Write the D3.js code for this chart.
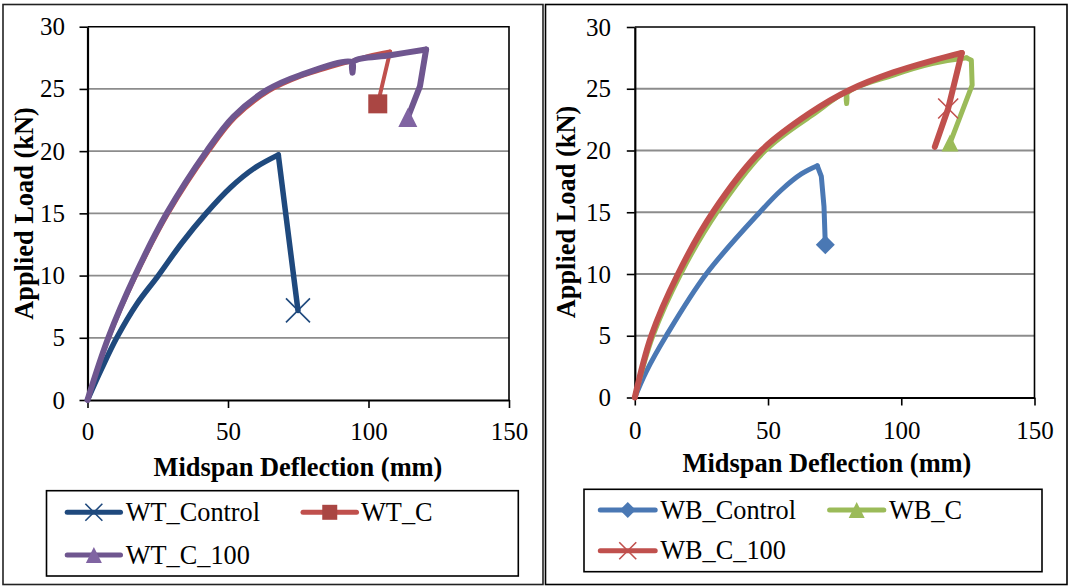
<!DOCTYPE html>
<html>
<head>
<meta charset="utf-8">
<script src="https://cdn.jsdelivr.net/npm/d3@7"></script>
<style>
  html, body { margin: 0; padding: 0; background: #fff; }
  svg { display: block; }
</style>
</head>
<body>
<svg id="chart" width="1071" height="588"></svg>
<script>
// ---- Data: midspan deflection (mm) vs applied load (kN) ----
const xTicks = [0, 50, 100, 150];
const yTicks = [0, 5, 10, 15, 20, 25, 30];

const wtControl = [[0,0],[5,2.5],[10.4,5],[17.5,7.7],[25.2,10],[33.5,12.6],[42.2,15],[51,17.1],[59.5,18.65],[67.9,19.7],[74.9,7.2]];
const wtC = [[0,0],[7.6,5],[17.3,10],[28.8,15],[43.2,20],[52.6,22.7],[64.5,24.8],[76,26],[93.4,27.2],[100,27.65],[107.7,28.0],[103.3,23.8]];
const wtC100 = [[0,0],[7.4,5],[16.9,10],[28.2,15],[42.4,20],[51.9,22.76],[63.8,24.9],[75.6,26.1],[94.1,27.15],[94.3,26.3],[94.5,27.17],[107.7,27.7],[120.5,28.17],[118.3,25.2],[114,22.7]];

const wbControl = [[0,0],[4.3,2.1],[11.8,5],[26.8,10],[46.9,15],[55,16.8],[62.5,18.1],[68.5,18.76],[70,17.9],[71,15.46],[71.5,12.36]];
const wbC = [[0,0],[6.8,5],[17.2,10],[30.8,15],[49,20],[66.8,22.9],[79.3,24.6],[79.5,23.8],[79.8,24.65],[97,26.1],[112,27.05],[124.5,27.5],[126.3,27.3],[126.6,25.3],[118.3,20.6]];
const wbC100 = [[0,0],[6.2,5],[16.2,10],[29.3,15],[47.5,20],[65.7,23.03],[80.8,24.92],[97,26.32],[112,27.3],[122.7,27.9],[117.6,23.4],[112.6,20.3]];

// Marker locations for each series
const wtControlMarker = [[74.9,7.2]];
const wtCMarker = [[103.3,23.8]];
const wtC100Marker = [[114,22.7]];
const wbControlMarker = [[71.5,12.36]];
const wbCMarker = [[118.3,20.6]];
const wbC100Marker = [[117.6,23.4]];

const seriesNames = ["WT_Control","WT_C","WT_C_100","WB_Control","WB_C","WB_C_100"];

const FONT = '"Liberation Serif"';
const svg = d3.select("#chart");

// Marker shapes, size in px
function markerPath(type, s) {
  const h = s / 2;
  switch (type) {
    case "square": return `M${-h},${-h}H${h}V${h}H${-h}Z`;
    case "triangle": return `M0,${-h}L${h},${h}L${-h},${h}Z`;
    case "diamond": return `M0,${-h}L${h},0L0,${h}L${-h},0Z`;
    case "x": return `M${-h},${-h}L${h},${h}M${-h},${h}L${h},${-h}`;
  }
}

function drawPanel(cfg) {
  const g = svg.append("g");

  // panel frame
  g.append("rect")
    .attr("x", cfg.frame.x).attr("y", cfg.frame.y)
    .attr("width", cfg.frame.w).attr("height", cfg.frame.h)
    .attr("fill", "#fff").attr("stroke", cfg.frame.stroke).attr("stroke-width", 1.6);

  const x = d3.scaleLinear().domain([0, 150]).range([cfg.plot.x0, cfg.plot.x1]);
  const y = d3.scaleLinear().domain([0, 30]).range([cfg.plot.yBot, cfg.plot.yTop]);

  // horizontal gridlines
  g.append("g").selectAll("line")
    .data(yTicks.filter(v => v > 0 && v < 30))
    .join("line")
    .attr("x1", x(0)).attr("x2", x(150))
    .attr("y1", d => y(d)).attr("y2", d => y(d))
    .attr("stroke", "#8c8c8c").attr("stroke-width", 1.8);

  // plot border (top / right)
  g.append("path")
    .attr("d", `M${x(0)},${y(30)}H${x(150)}V${y(0)}`)
    .attr("fill", "none").attr("stroke", "#000").attr("stroke-width", 1.6);

  // axes
  const yAxis = d3.axisLeft(y).tickValues(yTicks).tickSize(8).tickSizeOuter(0).tickPadding(cfg.yPad);
  const xAxis = d3.axisBottom(x).tickValues(xTicks).tickSize(8).tickSizeOuter(0).tickPadding(cfg.xPad);

  const ya = g.append("g").attr("transform", `translate(${x(0)},0)`).call(yAxis);
  const xa = g.append("g").attr("transform", `translate(0,${y(0)})`).call(xAxis);
  [ya, xa].forEach(a => {
    a.attr("font-family", null).attr("font-size", null);
    a.select(".domain").attr("stroke", "#000").attr("stroke-width", 2.2);
    a.selectAll(".tick line").attr("stroke", "#000").attr("stroke-width", 1.6);
    a.selectAll(".tick text").style("font-family", FONT).style("font-size", "25px").attr("fill", "#000");
  });

  // axis titles
  g.append("text")
    .attr("x", cfg.xTitle.cx).attr("y", cfg.xTitle.y)
    .attr("text-anchor", "middle")
    .style("font-family", FONT).style("font-weight", "bold").style("font-size", "26.4px")
    .text("Midspan Deflection (mm)");
  g.append("text")
    .attr("transform", `translate(${cfg.yTitle.x},${cfg.yTitle.cy}) rotate(-90)`)
    .attr("text-anchor", "middle")
    .style("font-family", FONT).style("font-weight", "bold").style("font-size", "26.4px")
    .text("Applied Load (kN)");

  // series lines: smooth rising branch up to peak load, straight unloading branch after it
  const smooth = d3.line().x(d => x(d[0])).y(d => y(d[1])).curve(d3.curveCatmullRom.alpha(0.5));
  const straight = d3.line().x(d => x(d[0])).y(d => y(d[1]));
  const marks = g.append("g");
  cfg.series.forEach(s => {
    const pk = d3.maxIndex(s.data, d => d[1]);
    const rise = s.data.slice(0, pk + 1);
    const fall = s.data.slice(pk);
    const sg = marks.append("g")
      .attr("fill", "none")
      .attr("stroke", s.color).attr("stroke-width", s.width)
      .attr("stroke-linejoin", "round").attr("stroke-linecap", "round");
    sg.append("path").attr("d", smooth(rise));
    if (fall.length > 1) sg.append("path").attr("d", straight(fall));
    marks.selectAll(null).data(s.markers).join("path")
      .attr("transform", d => `translate(${x(d[0])},${y(d[1])})`)
      .attr("d", markerPath(s.marker, s.msize))
      .attr("fill", s.marker === "x" ? "none" : s.mfill)
      .attr("stroke", s.marker === "x" ? s.mfill : "none")
      .attr("stroke-width", s.marker === "x" ? 1.6 : 0);
  });

  // legend
  const lg = g.append("g");
  lg.append("rect")
    .attr("x", cfg.legend.x).attr("y", cfg.legend.y)
    .attr("width", cfg.legend.w).attr("height", cfg.legend.h)
    .attr("fill", "#fff").attr("stroke", "#000").attr("stroke-width", 1.6);
  cfg.series.forEach((s, i) => {
    const it = cfg.legend.items[i];
    const item = lg.append("g");
    item.append("line")
      .attr("x1", it.lx0).attr("x2", it.lx1).attr("y1", it.y).attr("y2", it.y)
      .attr("stroke", s.color).attr("stroke-width", 5).attr("stroke-linecap", "round");
    item.append("path")
      .attr("transform", `translate(${(it.lx0 + it.lx1) / 2},${it.y})`)
      .attr("d", markerPath(s.marker, s.lsize))
      .attr("fill", s.marker === "x" ? "none" : s.mfill)
      .attr("stroke", s.marker === "x" ? s.mfill : "none")
      .attr("stroke-width", s.marker === "x" ? 1.6 : 0);
    item.append("text")
      .attr("x", it.tx).attr("y", it.y + 8.5)
      .style("font-family", FONT).style("font-size", "26.3px").attr("fill", "#000")
      .text(s.name);
  });
}

drawPanel({
  frame: { x: 3, y: 4.5, w: 540, h: 580, stroke: "#222" },
  plot: { x0: 87.5, x1: 509, yTop: 26.7, yBot: 400 },
  yPad: 14.5, xPad: 14.6,
  xTitle: { cx: 298, y: 476 },
  yTitle: { x: 33, cy: 213.5 },
  legend: {
    x: 46.5, y: 490.7, w: 471.8, h: 85.3,
    items: [
      { lx0: 67.2, lx1: 120.5, y: 512.3, tx: 125.7 },
      { lx0: 303, lx1: 356.5, y: 512.3, tx: 361 },
      { lx0: 67.2, lx1: 120.5, y: 555, tx: 125.7 }
    ]
  },
  series: [
    { name: seriesNames[0], data: wtControl, markers: wtControlMarker, color: "#1F497D", width: 5.5, marker: "x", mfill: "#1F497D", msize: 24, lsize: 17 },
    { name: seriesNames[1], data: wtC, markers: wtCMarker, color: "#C0504D", width: 4, marker: "square", mfill: "#AA4643", msize: 19, lsize: 15 },
    { name: seriesNames[2], data: wtC100, markers: wtC100Marker, color: "#6F568F", width: 6, marker: "triangle", mfill: "#8064A2", msize: 19, lsize: 16 }
  ]
});

drawPanel({
  frame: { x: 545.5, y: 4.5, w: 521.5, h: 580, stroke: "#000" },
  plot: { x0: 634.8, x1: 1034.5, yTop: 27, yBot: 397.5 },
  yPad: 15.8, xPad: 15.4,
  xTitle: { cx: 827, y: 472 },
  yTitle: { x: 575, cy: 212 },
  legend: {
    x: 584, y: 489.3, w: 458, h: 82.4,
    items: [
      { lx0: 600.3, lx1: 655.2, y: 510, tx: 660.2 },
      { lx0: 829.6, lx1: 883.8, y: 510, tx: 888.9 },
      { lx0: 600.3, lx1: 655.2, y: 550.7, tx: 660.2 }
    ]
  },
  series: [
    { name: seriesNames[3], data: wbControl, markers: wbControlMarker, color: "#4A78B4", width: 5, marker: "diamond", mfill: "#4A78B4", msize: 19, lsize: 16 },
    { name: seriesNames[4], data: wbC, markers: wbCMarker, color: "#9BBB59", width: 5, marker: "triangle", mfill: "#9BBB59", msize: 17, lsize: 16 },
    { name: seriesNames[5], data: wbC100, markers: wbC100Marker, color: "#C0504D", width: 6, marker: "x", mfill: "#C0504D", msize: 20, lsize: 17 }
  ]
});
</script>
</body>
</html>
